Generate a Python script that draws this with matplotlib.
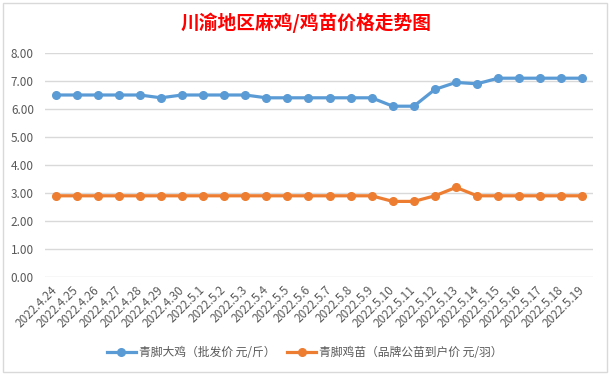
import matplotlib
matplotlib.use("Agg")
import matplotlib.pyplot as plt
from matplotlib.patches import Rectangle

plt.rcParams['font.family'] = ['Noto Sans CJK SC', 'DejaVu Sans']

dates = ["2022.4.24", "2022.4.25", "2022.4.26", "2022.4.27", "2022.4.28", "2022.4.29",
         "2022.4.30", "2022.5.1", "2022.5.2", "2022.5.3", "2022.5.4", "2022.5.5",
         "2022.5.6", "2022.5.7", "2022.5.8", "2022.5.9", "2022.5.10", "2022.5.11",
         "2022.5.12", "2022.5.13", "2022.5.14", "2022.5.15", "2022.5.16", "2022.5.17",
         "2022.5.18", "2022.5.19"]
big_chicken = [6.5, 6.5, 6.5, 6.5, 6.5, 6.4, 6.5, 6.5, 6.5, 6.5, 6.4, 6.4,
               6.4, 6.4, 6.4, 6.4, 6.1, 6.1, 6.7, 6.95, 6.9, 7.1, 7.1, 7.1, 7.1, 7.1]
chick = [2.9, 2.9, 2.9, 2.9, 2.9, 2.9, 2.9, 2.9, 2.9, 2.9, 2.9, 2.9,
         2.9, 2.9, 2.9, 2.9, 2.7, 2.7, 2.9, 3.2, 2.9, 2.9, 2.9, 2.9, 2.9, 2.9]
series_names = ["青脚大鸡（批发价 元/斤）", "青脚鸡苗（品牌公苗到户价 元/羽）"]
title = "川渝地区麻鸡/鸡苗价格走势图"
yticks = [0, 1, 2, 3, 4, 5, 6, 7, 8]

W, H = 611, 375
fig = plt.figure(figsize=(W / 100, H / 100), dpi=100)
fig.patch.set_facecolor('white')

# chart border
fig.add_artist(Rectangle((3 / W, 3 / H), 604 / W, 369 / H, transform=fig.transFigure,
                         fill=False, edgecolor='#d9d9d9', linewidth=1))

ax = fig.add_axes([45 / W, (H - 277) / H, (593 - 45) / W, (277 - 53) / H])
x = list(range(len(dates)))
ax.plot(x, big_chicken, color='#5B9BD5', lw=2.3, marker='o', ms=5.5, label=series_names[0], zorder=3)
ax.plot(x, chick, color='#ED7D31', lw=2.3, marker='o', ms=5.5, label=series_names[1], zorder=3)

ax.set_xlim(-0.5, len(dates) - 0.5)
ax.set_ylim(0, 8)
ax.set_yticks(yticks)
ax.set_yticklabels([f"{v:.2f}" for v in yticks])
ax.yaxis.grid(True, color='#d9d9d9', lw=1)
ax.set_axisbelow(True)
for s in ax.spines.values():
    s.set_visible(False)
ax.tick_params(axis='both', length=0, labelsize=8.5, labelcolor='#595959')
ax.tick_params(axis='y', pad=8)
ax.set_xticks(x)
ax.set_xticklabels(dates, rotation=45, ha='right', rotation_mode='anchor', va='center')
ax.tick_params(axis='x', pad=8)

fig.text(306 / W, 1 - 23 / H, title, ha='center', va='center', fontsize=13.5,
         fontweight='bold', color='#FF0000')

fig.legend(loc='center', bbox_to_anchor=(305 / W, 1 - 353 / H), ncol=2, frameon=False,
           fontsize=8.5, handlelength=2.4, columnspacing=1.0, handletextpad=0.3,
           labelcolor='#595959')

fig.savefig('out.png', dpi=100, facecolor='white')
